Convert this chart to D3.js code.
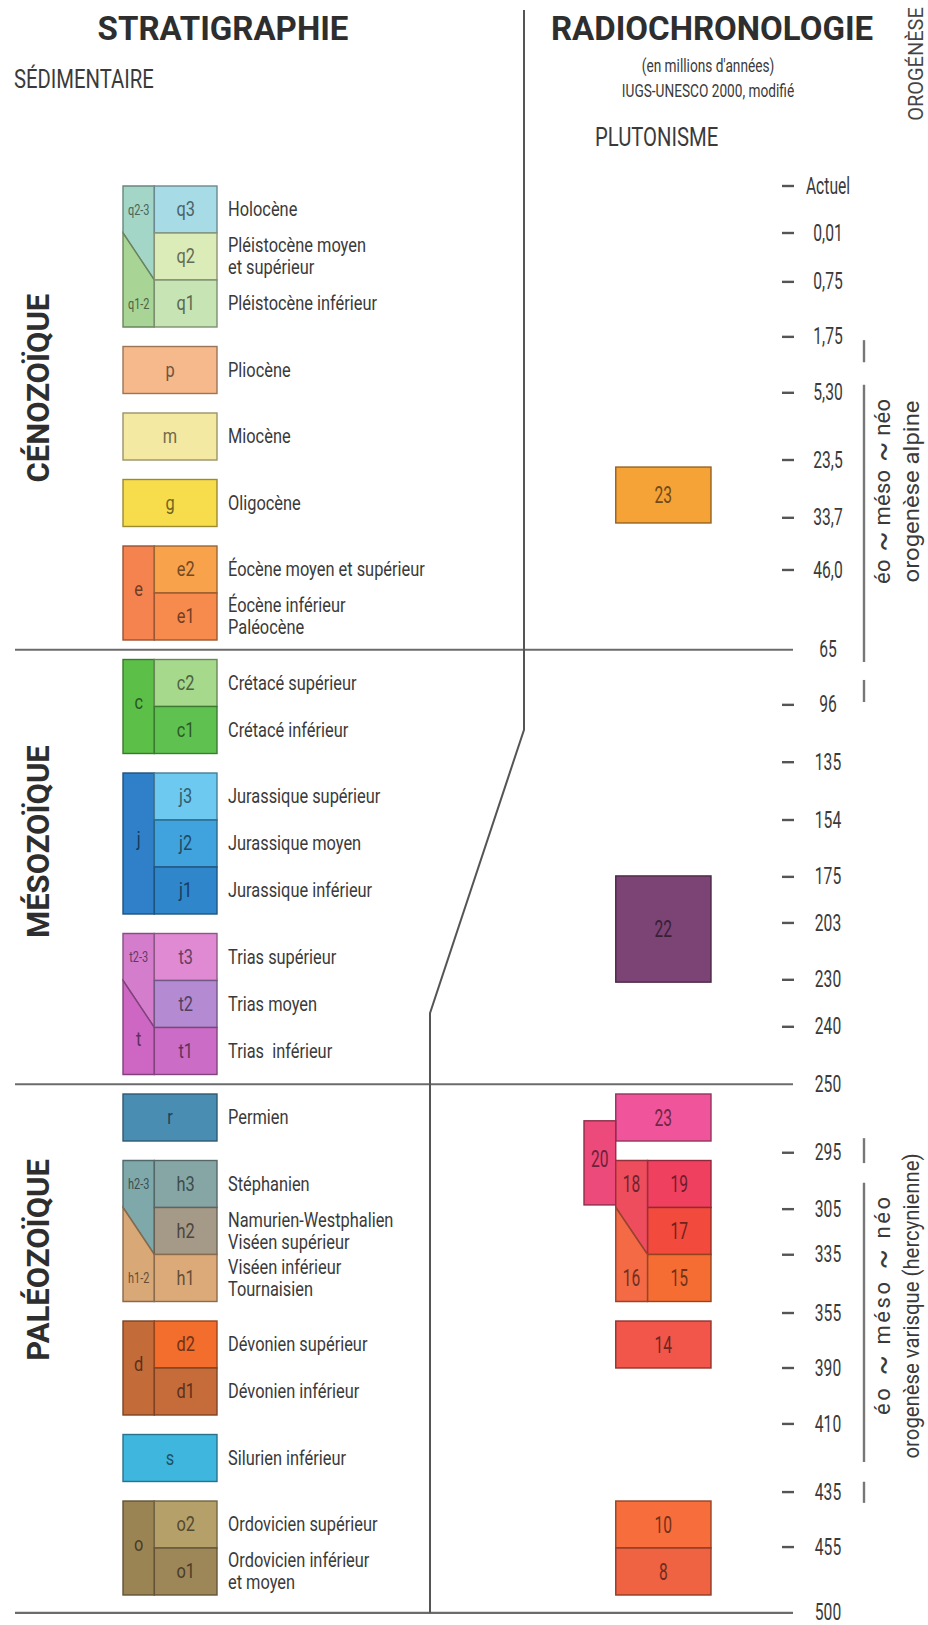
<!DOCTYPE html>
<html>
<head>
<meta charset="UTF-8">
<title>Stratigraphie et radiochronologie</title>
<style>
  body { margin: 0; background: #fff; }
  svg text { font-family: Roboto, "Noto Sans", "DejaVu Sans", sans-serif; fill: #3a3a3a; white-space: pre; }
</style>
</head>
<body>
<div id="chart"></div>
<script src="https://d3js.org/d3.v7.min.js"></script>
<script>
// ---- stratigraphy (top to bottom) ----
var blockCodes = ["q", "p", "m", "g", "e", "c", "j", "t", "r", "h", "d", "s", "o"];
var rowCodes = [["q3","q2","q1"], ["p"], ["m"], ["g"], ["e2","e1"], ["c2","c1"], ["j3","j2","j1"],
                ["t3","t2","t1"], ["r"], ["h3","h2","h1"], ["d2","d1"], ["s"], ["o2","o1"]];
var rowNames = [
  [["Holocène"], ["Pléistocène moyen", "et supérieur"], ["Pléistocène inférieur"]],
  [["Pliocène"]],
  [["Miocène"]],
  [["Oligocène"]],
  [["Éocène moyen et supérieur"], ["Éocène inférieur", "Paléocène"]],
  [["Crétacé supérieur"], ["Crétacé inférieur"]],
  [["Jurassique supérieur"], ["Jurassique moyen"], ["Jurassique inférieur"]],
  [["Trias supérieur"], ["Trias moyen"], ["Trias  inférieur"]],
  [["Permien"]],
  [["Stéphanien"], ["Namurien-Westphalien", "Viséen supérieur"], ["Viséen inférieur", "Tournaisien"]],
  [["Dévonien supérieur"], ["Dévonien inférieur"]],
  [["Silurien inférieur"]],
  [["Ordovicien supérieur"], ["Ordovicien inférieur", "et moyen"]]
];
var rowColors = [
  ["#a7dbe6", "#dcecb8", "#c6e4b4"], ["#f6b98c"], ["#f3e9a2"], ["#f7dd4c"],
  ["#f8a24c", "#f78b4e"], ["#a6d98c", "#5fc250"], ["#6dc9ef", "#41a3dd", "#2f86cb"],
  ["#e08ad4", "#b48bd2", "#cb6cc6"], ["#4a8db2"], ["#86a6a6", "#a59a88", "#dcaa79"],
  ["#f36d2d", "#c66b3a"], ["#3fb6de"], ["#b6a06a", "#9d8657"]
];
var sideLabels = [["q2-3","q1-2"], null, null, null, ["e"], ["c"], ["j"], ["t2-3","t"], null,
                  ["h2-3","h1-2"], ["d"], null, ["o"]];
var sideColors = [["#a3d6c6","#a8d495"], null, null, null, ["#f5834f"], ["#5cbf48"], ["#2f80c8"],
                  ["#d57dcd","#cd67c3"], null, ["#7fa8aa","#d9a877"], ["#c46b3a"], null, ["#9b8454"]];

// ---- eras ----
var eraNames = ["CÉNOZOÏQUE", "MÉSOZOÏQUE", "PALÉOZOÏQUE"];
var eraLastBlock = [4, 7, 12];
var eraLabelRow = [4.3, 13.95, 22.85];

// ---- radiochronology ticks (Ma) ----
var ageLabels = ["Actuel","0,01","0,75","1,75","5,30","23,5","33,7","46,0","65","96","135","154","175",
                 "203","230","240","250","295","305","335","355","390","410","435","455","500"];
var ageRows = [0, 1.0, 2.04, 3.21, 4.4, 5.83, 7.06, 8.17, 9.87, 11.04, 12.26, 13.49, 14.7,
               15.68, 16.89, 17.89, 19.11, 20.57, 21.77, 22.74, 23.98, 25.15, 26.34, 27.79, 28.96, 30.36];
var boundaryAges = ["65", "250", "500"];

// ---- plutonism ----
var plutonLabels = ["23", "22", "23", "20", "19", "17", "15", "14", "10", "8"];
var plutonColors = ["#f5a236", "#7b4475", "#f0559c", "#ec4a7a", "#ef4060", "#f24a3c", "#f56d32",
                    "#f2564b", "#f76e3c", "#ef6242"];
var plutonFrom = [5.98, 14.68, 19.32, 19.89, 20.735, 21.735, 22.735, 24.15, 27.98, 28.98];
var plutonTo   = [7.17, 16.94, 20.32, 21.68, 21.735, 22.735, 23.735, 25.15, 28.98, 29.98];
var plutonCols = [[1,4], [1,4], [1,4], [0,1], [2,4], [2,4], [2,4], [1,4], [1,4], [1,4]];
var splitLabels = ["18", "16"];
var splitColors = ["#ee4d5e", "#f36a45"];
var splitFrom = 20.735;

// ---- orogenies ----
var orogenyNames = ["orogenèse alpine", "orogenèse varisque (hercynienne)"];
var orogenyPhases = ["éo", "~", "méso", "~", "néo"];
var orogenyRange = [[4.23, 10.13], [21.21, 27.15]];
var orogenyMarks = [[[3.28, 3.75], [10.51, 10.98]], [[20.26, 20.79], [27.57, 28.02]]];
var orogenyCenter = [6.5, 23.83];
var orogenyNameLen = [182, 305];
var orogenyPhaseLen = [185, 218];

// ------------------------------------------------------------
var W = 928, H = 1625, GAP = 0.415;
var NARROW = 0.78;   // horizontal squeeze to imitate the condensed face

var svg = d3.select("#chart").append("svg")
    .attr("width", W).attr("height", H);

var blocks = [];
var u = 0;
rowCodes.forEach(function(codes, i) {
    blocks.push({ code: blockCodes[i], start: u, codes: codes, names: rowNames[i],
                  colors: rowColors[i], side: sideLabels[i], sideFill: sideColors[i] });
    u += codes.length + GAP;
});
var totalUnits = u - GAP;

var y = d3.scaleLinear().domain([0, totalUnits]).range([186, 1595]);
var colX = d3.scaleLinear().domain([0, 3]).range([123, 217]);
var plutX = d3.scaleLinear().domain([0, 4]).range([584, 711]);
var textX = 228;

function darker(c, k) { return d3.color(c).darker(k).formatHex(); }
function poly(pts) { return "M" + pts.map(function(p) { return p.join(","); }).join("L") + "Z"; }

// text helper: condensed by scaling, optional rotation
function label(g, x, yy, str, o) {
    o = o || {};
    var tr = "translate(" + x + "," + yy + ")" + (o.rotate ? " rotate(" + o.rotate + ")" : "") +
             " scale(" + (o.sx || NARROW) + ",1)";
    var t = g.append("text")
        .attr("transform", tr)
        .attr("text-anchor", o.anchor || "middle")
        .attr("dominant-baseline", o.baseline || "central")
        .style("font-size", (o.size || 21) + "px")
        .style("font-weight", o.weight || "normal")
        .style("fill", o.fill || "#3a3a3a");
    if (Array.isArray(str)) {
        // word pieces, tildes drawn bigger
        str.forEach(function(s, i) {
            t.append("tspan")
                .style("font-size", s === "~" ? "30px" : null)
                .text((i ? " " : "") + s);
        });
    } else {
        t.text(str);
    }
    if (o.length) t.attr("textLength", o.length).attr("lengthAdjust", o.adjust || "spacing");
    return t;
}

// split column with diagonal (used by q, t, h and the 18/16 pluton column)
function splitColumn(g, x0, x1, u0, labels, fills, small) {
    var top = y(u0), yA = y(u0 + 1), yB = y(u0 + 2), bot = y(u0 + 3);
    var shapes = [
        [[x0, top], [x1, top], [x1, yB], [x0, yA]],
        [[x0, yA], [x1, yB], [x1, bot], [x0, bot]]
    ];
    g.selectAll(null).data(shapes).join("path")
        .attr("d", poly)
        .attr("fill", function(d, i) { return fills[i]; })
        .attr("stroke", function(d, i) { return darker(fills[i], 1.3); })
        .attr("stroke-width", 1.4);
    labels.forEach(function(d, i) {
        var isSmall = small && d.length > 1;
        label(g, (x0 + x1) / 2, y(u0 + (i === 0 ? 0.5 : 2.5)) - (d === "t" ? 12 : 0), d, {
            size: isSmall ? 14 : (small ? 21 : 24), sx: isSmall ? 0.78 : (small ? NARROW : 0.65),
            fill: darker(fills[i], 2.2)
        });
    });
}

// ---- era separators and divider ----
var lines = svg.append("g").attr("stroke", "#6b6b6b").attr("fill", "none");
var eraLineRows = eraLastBlock.map(function(bi, k) {
    var b = blocks[bi];
    return k < 2 ? b.start + b.codes.length + GAP / 2 : ageRows[ageRows.length - 1];
});
lines.selectAll("line.era").data(eraLineRows).join("line")
    .attr("class", "era")
    .attr("x1", 15).attr("x2", 793)
    .attr("y1", function(d) { return y(d); }).attr("y2", function(d) { return y(d); })
    .attr("stroke-width", 2.2);

var divider = [[524, 10], [524, y(11.57)], [430, y(17.6)], [430, y(ageRows[ageRows.length - 1])]];
lines.append("path")
    .attr("d", d3.line()(divider))
    .attr("stroke", "#555").attr("stroke-width", 2);

// ---- stratigraphic boxes ----
var strat = svg.append("g");
blocks.forEach(function(b) {
    var g = strat.append("g");
    var mainStart = b.side ? 1 : 0;
    if (b.side && b.side.length === 2) {
        splitColumn(g, colX(0), colX(1), b.start, b.side, b.sideFill, true);
    } else if (b.side) {
        g.append("rect")
            .attr("x", colX(0)).attr("width", colX(1) - colX(0))
            .attr("y", y(b.start)).attr("height", y(b.start + b.codes.length) - y(b.start))
            .attr("fill", b.sideFill[0]).attr("stroke", darker(b.sideFill[0], 1.3)).attr("stroke-width", 1.4);
        label(g, colX(0.5), y(b.start + b.codes.length / 2) - 4, b.side[0], { fill: darker(b.sideFill[0], 2.2) });
    }
    b.codes.forEach(function(code, k) {
        var u0 = b.start + k;
        g.append("rect")
            .attr("x", colX(mainStart)).attr("width", colX(3) - colX(mainStart))
            .attr("y", y(u0)).attr("height", y(u0 + 1) - y(u0))
            .attr("fill", b.colors[k]).attr("stroke", darker(b.colors[k], 1.3)).attr("stroke-width", 1.4);
        label(g, colX((mainStart + 3) / 2), y(u0 + 0.5), code, { fill: darker(b.colors[k], 2.2) });
        var names = b.names[k];
        names.forEach(function(d, i) {
            label(g, textX, y(u0 + 0.5) + (i - (names.length - 1) / 2) * 22, d, { anchor: "start" });
        });
    });
});

// ---- era labels ----
eraNames.forEach(function(d, i) {
    label(svg, 38, y(eraLabelRow[i]), d, { rotate: -90, size: 31, weight: "bold", sx: 1, fill: "#2e2e2e" });
});

// ---- age ticks ----
var ticks = svg.append("g");
var ageData = ageLabels.map(function(l, i) { return { label: l, row: ageRows[i] }; });
ticks.selectAll("line").data(ageData.filter(function(d) { return boundaryAges.indexOf(d.label) < 0; }))
    .join("line")
    .attr("x1", 782).attr("x2", 794)
    .attr("y1", function(d) { return y(d.row); }).attr("y2", function(d) { return y(d.row); })
    .attr("stroke", "#555").attr("stroke-width", 2.4);
ageData.forEach(function(d) {
    label(ticks, 828, y(d.row), d.label, { size: 23, sx: 0.68 });
});

// ---- plutonism ----
var plut = svg.append("g");
var plutData = plutonLabels.map(function(l, i) {
    return { label: l, fill: plutonColors[i], from: plutonFrom[i], to: plutonTo[i], cols: plutonCols[i] };
});
plut.selectAll("rect").data(plutData).join("rect")
    .attr("x", function(d) { return plutX(d.cols[0]); })
    .attr("width", function(d) { return plutX(d.cols[1]) - plutX(d.cols[0]); })
    .attr("y", function(d) { return y(d.from); })
    .attr("height", function(d) { return y(d.to) - y(d.from); })
    .attr("fill", function(d) { return d.fill; })
    .attr("stroke", function(d) { return darker(d.fill, 1.4); })
    .attr("stroke-width", 1.4);
plutData.forEach(function(d) {
    label(plut, (plutX(d.cols[0]) + plutX(d.cols[1])) / 2, y((d.from + d.to) / 2) - (d.label === "20" ? 4 : 0),
          d.label, { size: 24, sx: 0.65, fill: darker(d.fill, 2.2) });
});
splitColumn(plut.append("g"), plutX(1), plutX(2), splitFrom, splitLabels, splitColors, false);

// ---- orogenies ----
var oro = svg.append("g");
orogenyNames.forEach(function(name, i) {
    var segs = [orogenyRange[i]].concat(orogenyMarks[i]);
    oro.selectAll(null).data(segs).join("line")
        .attr("x1", 864).attr("x2", 864)
        .attr("y1", function(d) { return y(d[0]); }).attr("y2", function(d) { return y(d[1]); })
        .attr("stroke", "#777").attr("stroke-width", 2.4);
    var cy = y(orogenyCenter[i]);
    label(oro, 882, cy, orogenyPhases, { rotate: -90, size: 22, sx: 1, length: orogenyPhaseLen[i] });
    label(oro, 911, cy, name, { rotate: -90, size: 22, sx: 1, length: orogenyNameLen[i], adjust: "spacingAndGlyphs" });
});

// ---- headers ----
var head = svg.append("g");
label(head, 223, 40, "STRATIGRAPHIE", { size: 33, weight: "bold", sx: 1, baseline: "auto", fill: "#2e2e2e" });
label(head, 14, 88, "SÉDIMENTAIRE", { size: 26, anchor: "start", baseline: "auto" });
label(head, 712, 40, "RADIOCHRONOLOGIE", { size: 33, weight: "bold", sx: 1, baseline: "auto", fill: "#2e2e2e" });
label(head, 708, 72, "(en millions d'années)", { size: 18, sx: 0.76, baseline: "auto" });
label(head, 708, 97, "IUGS-UNESCO 2000, modifié", { size: 18, sx: 0.76, baseline: "auto" });
label(head, 595, 146, "PLUTONISME", { size: 26, anchor: "start", baseline: "auto" });
label(head, 916, 64, "OROGÉNÈSE", { rotate: -90, size: 20, sx: 1, fill: "#444" });
</script>
</body>
</html>
